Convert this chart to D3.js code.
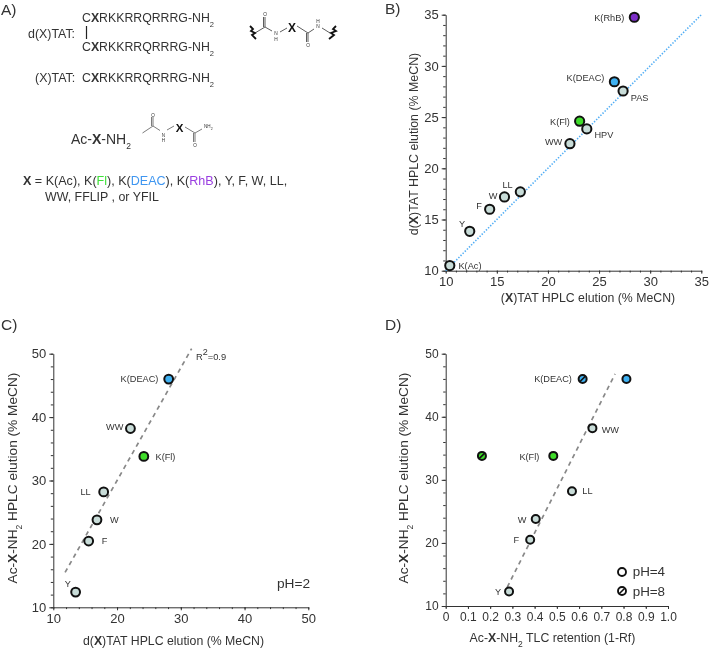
<!DOCTYPE html>
<html><head><meta charset="utf-8">
<script src="https://cdn.jsdelivr.net/npm/d3@7"></script>
<style>
html,body{margin:0;padding:0;background:#fff}
svg{display:block;will-change:transform}
text{font-family:"Liberation Sans",Arial,sans-serif;fill:#333}
</style></head><body>
<svg id="c" width="709" height="651"></svg>
<script>
// Panel B
const bNames = ["K(Ac)","Y","F","W","LL","WW","K(Fl)","HPV","K(DEAC)","PAS","K(RhB)"];
const bX = [10.4,12.35,14.3,15.75,17.3,22.15,23.1,23.8,26.5,27.35,28.45];
const bY = [10.5,13.85,16,17.2,17.7,22.4,24.6,23.85,28.45,27.55,34.75];
const bFit = [[10,10],[35,35]];
// Panel C
const cNames = ["Y","F","W","LL","WW","K(Fl)","K(DEAC)"];
const cX = [13.5,15.55,16.85,17.9,22.1,24.2,28.1];
const cY = [12.4,20.45,23.8,28.2,38.2,33.8,46];
const cFit = [[11.85,15.5],[31.7,50.8]];
// Panel D
const dNames = ["Y","F","W","LL","WW","K(Fl)","K(DEAC)"];
const dXpH4 = [0.285,0.38,0.405,0.568,0.66,0.484,0.813];
const dY = [12.3,20.5,23.8,28.2,38.2,33.8,46];
const dPH8Names = ["K(Fl)","K(DEAC)"];
const dXpH8 = [0.163,0.616];
const dYpH8 = [33.8,46];
const dFit = [[0.277,13],[0.762,46.8]];
const tickB = [10,15,20,25,30,35];
const tickCD = [10,20,30,40,50];
const tickDx = [0,0.1,0.2,0.3,0.4,0.5,0.6,0.7,0.8,0.9,1.0];

const colors = {"K(Fl)":"#3fdc2a","K(DEAC)":"#3fb1f2","K(RhB)":"#7d2ec8"};
const neutral = "#c8dcd8";
const svg = d3.select("#c");

function rich(sel, parts){
  parts.forEach(p=>{
    const t = sel.append("tspan").text(p.t);
    if(p.b) t.attr("font-weight","bold");
    if(p.c) t.style("fill",p.c);
    if(p.sub){ t.attr("baseline-shift","sub").attr("font-size",p.sub); }
    if(p.sup){ t.attr("baseline-shift","super").attr("font-size",p.sup); }
  });
}
function text(x,y,parts,size,anchor,parent){
  const s=(parent||svg).append("text").attr("x",x).attr("y",y).attr("font-size",size).attr("text-anchor",anchor||"start");
  rich(s, typeof parts==="string"?[{t:parts}]:parts);
  return s;
}

function panel(o){
  const x=d3.scaleLinear().domain(o.xd).range(o.xr);
  const y=d3.scaleLinear().domain(o.yd).range(o.yr);
  const g=svg.append("g");
  const ax=g.append("g").attr("transform",`translate(0,${o.yr[0]})`);
  const ay=g.append("g").attr("transform",`translate(${o.xr[0]},0)`);
  ax.call(d3.axisBottom(x).tickValues(o.xMinor).tickSize(1.8).tickFormat(""));
  ax.call(g=>g.select(".domain").remove());
  const ax2=g.append("g").attr("transform",`translate(0,${o.yr[0]})`)
    .call(d3.axisBottom(x).tickValues(o.xt).tickSize(3).tickSizeOuter(0).tickPadding(3.5).tickFormat(o.xf||d3.format("d")));
  ay.call(d3.axisLeft(y).tickValues(o.yMinor).tickSize(2.5).tickFormat(""));
  ay.call(g=>g.select(".domain").remove());
  const ay2=g.append("g").attr("transform",`translate(${o.xr[0]},0)`)
    .call(d3.axisLeft(y).tickValues(o.yt).tickSize(4).tickSizeOuter(0).tickPadding(3).tickFormat(d3.format("d")));
  g.selectAll(".domain").attr("stroke","#333").attr("stroke-width",1);
  g.selectAll(".tick line").attr("stroke","#333").attr("stroke-width",1);
  [ax2,ay2].forEach(a=>a.selectAll("text").attr("font-size",o.tickSize||13).style("font-family",'"Liberation Sans",Arial,sans-serif').style("fill","#333").attr("stroke","none"));
  const line=d3.line().x(d=>x(d[0])).y(d=>y(d[1]));
  g.append("path").attr("d",line(o.fit)).attr("fill","none").attr("stroke",o.fitColor).attr("stroke-width",o.fitW).attr("stroke-dasharray",o.fitDash);
  return {x,y,g};
}
function marks(p,names,xs,ys,labelPos,r,sw){
  names.forEach((n,i)=>{
    p.g.append("circle").attr("cx",p.x(xs[i])).attr("cy",p.y(ys[i])).attr("r",r)
      .attr("fill",colors[n]||neutral).attr("stroke","#111").attr("stroke-width",sw);
    const lp=labelPos[n];
    if(lp) text((lp[3]!==undefined?lp[3]:p.x(xs[i]))+lp[0],p.y(ys[i])+lp[1],n,9.2,lp[2],p.g);
  });
}
function stripeMarks(p,names,xs,ys,r){
  names.forEach((n,i)=>{
    const cx=p.x(xs[i]),cy=p.y(ys[i]);
    p.g.append("circle").attr("cx",cx).attr("cy",cy).attr("r",r).attr("fill",colors[n]).attr("stroke","#111").attr("stroke-width",2);
    p.g.append("line").attr("x1",cx-r*0.7).attr("y1",cy+r*0.7).attr("x2",cx+r*0.7).attr("y2",cy-r*0.7).attr("stroke","#111").attr("stroke-width",1.6);
  });
}

// Panel letters
text(1,15,"A)",15.5);
text(385,14,"B)",15.5);
text(1,330,"C)",15.5);
text(385,330,"D)",15.5);

// Panel A text
const seq=[{t:"C"},{t:"X",b:1},{t:"RKKRRQRRRG-NH"},{t:"2",sub:7.5}];
text(82,22,seq,12.3);
text(82,51,seq,12.3);
text(28,38,[{t:"d(X)TAT:"}],12.4);
svg.append("line").attr("x1",86.5).attr("x2",86.5).attr("y1",26).attr("y2",39).attr("stroke","#222").attr("stroke-width",1.2);
text(35,82,[{t:"(X)TAT:"}],12.4);
text(82,82,seq,12.3);
text(71,144,[{t:"Ac-"},{t:"X",b:1},{t:"-NH"},{t:"2",sub:8.5}],14);
text(23,185,[{t:"X",b:1},{t:" = "},{t:"K(Ac), K("},{t:"Fl",c:"#3fe03a"},{t:"), K("},{t:"DEAC",c:"#3f96f0"},{t:"), K("},{t:"RhB",c:"#9a3fe0"},{t:"), Y, F, W, LL,"}],12.55);
text(45,201,"WW, FFLIP , or YFIL",12.4);

// Structure drawings (decorative chemistry sketches)
const sg=svg.append("g").attr("fill","none").attr("stroke","#333").attr("stroke-width",0.8);
sg.append("path").attr("d","M255,33 L265,27 L272,31 M265,27 L265,17 M263.5,27 L263.5,17 M280,32 L287,28 M297,26 L308,33 L314,29 M308,33 L308,42 M306.5,33 L306.5,42 M322,28 L330,33");
svg.append("path").attr("d","M250,26 L253,29 L251,31 L255,33 L252,35 L256,39").attr("fill","none").attr("stroke","#111").attr("stroke-width",1.8);
svg.append("path").attr("d","M336,26 L333,29 L336,31 L331,33 L334,35 L329,39").attr("fill","none").attr("stroke","#111").attr("stroke-width",1.8);
text(265,16,"O",4.8,"middle");
text(276,35,"N",4.8,"middle");text(276,40.5,"H",4.8,"middle");
text(308,47,"O",4.8,"middle");
text(318,28,"N",4.8,"middle");text(318,22.5,"H",4.8,"middle");
text(292,32,[{t:"X",b:1}],12,"middle").style("fill","#111");

const sg2=svg.append("g").attr("fill","none").attr("stroke","#444").attr("stroke-width",0.7);
sg2.append("path").attr("d","M142.5,133 L153,126 L160,130.5 M153,126 L153,117 M151.5,126 L151.5,117 M167,130 L174,126 M185,127 L195,133 L202,129 M195,133 L195,142 M193.5,133 L193.5,142");
text(153,117,"O",4.6,"middle");
text(163.5,137,"N",4.6,"middle");text(163.5,141.5,"H",4.6,"middle");
text(195,147,"O",4.6,"middle");
text(204,128,[{t:"NH"},{t:"2",sub:3.5}],4.6);
text(179.5,132,[{t:"X",b:1}],11.5,"middle").style("fill","#111");

// Panel B
const B=panel({xd:[10,35],yd:[10,35],xr:[445.7,701.3],yr:[270.7,14.7],
  xt:tickB,yt:tickB,xMinor:d3.range(10,35.01,1),yMinor:d3.range(10,35.01,1),
  fit:bFit,fitColor:"#52aef5",fitW:1.6,fitDash:"1.4 1.6"});
marks(B,bNames,bX,bY,{
 "K(Ac)":[8.7,3,"start"],"Y":[-4.7,-4.6,"end"],"F":[-7.7,0,"end"],"W":[-7,2.3,"end"],"LL":[-7.6,-3.4,"end"],
 "WW":[-7.7,1.3,"end"],"K(Fl)":[-9.7,4,"end"],"HPV":[7.7,8.7,"start"],"K(DEAC)":[-10,-0.7,"end"],"PAS":[7.7,9.7,"start"],"K(RhB)":[-10,3.4,"end"]},4.6,2);
text(588,302,[{t:"("},{t:"X",b:1},{t:")TAT HPLC elution (% MeCN)"}],12.3,"middle");
text(0,0,[{t:"d("},{t:"X",b:1},{t:")TAT HPLC elution (% MeCN)"}],12.4,"middle").attr("transform","translate(418,144) rotate(-90)");

// Panel C
const C=panel({xd:[10,50],yd:[10,50],xr:[53.3,308.3],yr:[607.3,353.7],
  xt:tickCD,yt:tickCD,xMinor:d3.range(10,50.01,2),yMinor:d3.range(10,50.01,2),
  fit:cFit,fitColor:"#888",fitW:1.7,fitDash:"4.5 4"});
marks(C,cNames,cX,cY,{
 "Y":[-4.7,-4.7,"end"],"F":[13,3,"start"],"W":[13,3.3,"start"],"LL":[-13,3,"end"],
 "WW":[-7,1,"end"],"K(Fl)":[11.7,3.7,"start"],"K(DEAC)":[-10.3,3,"end"]},4.4,2);
text(173.5,645,[{t:"d("},{t:"X",b:1},{t:")TAT HPLC elution (% MeCN)"}],12.3,"middle");
text(0,0,[{t:"Ac-"},{t:"X",b:1},{t:"-NH"},{t:"2",sub:8.5},{t:" HPLC elution (% MeCN)"}],13.7,"middle").attr("transform","translate(17,478) rotate(-90)");
text(277,588,[{t:"pH=2"}],13.7);
text(196,360,[{t:"R"},{t:"2",sup:9},{t:"=0.9"}],9.3);

// Panel D
function D_x(v){return 445.7+v*(668-445.7);}
const D=panel({xd:[0,1],yd:[10,50],xr:[445.7,668],yr:[606,353.7],
  xt:tickDx,yt:tickCD,xMinor:d3.range(0,1.001,0.1),yMinor:d3.range(10,50.01,2),
  xf:d=>d===0?"0":d3.format(".1f")(d),tickSize:12,
  fit:dFit,fitColor:"#888",fitW:1.7,fitDash:"4.5 4"});
marks(D,dNames,dXpH4,dY,{
 "Y":[-8,3.7,"end"],"F":[-11,3.3,"end"],"W":[-9.3,3.7,"end"],"LL":[10.3,3,"start"],
 "WW":[9.3,5,"start"],"K(Fl)":[-14,3.7,"end"],"K(DEAC)":[-10.7,3.3,"end",D_x(dXpH8[1])]},4,2);
stripeMarks(D,dPH8Names,dXpH8,dYpH8,4);
text(552.5,642,[{t:"Ac-"},{t:"X",b:1},{t:"-NH"},{t:"2",sub:8.5},{t:" TLC retention (1-Rf)"}],12.3,"middle");
text(0,0,[{t:"Ac-"},{t:"X",b:1},{t:"-NH"},{t:"2",sub:8.5},{t:" HPLC elution (% MeCN)"}],13.7,"middle").attr("transform","translate(408,478) rotate(-90)");
svg.append("circle").attr("cx",622).attr("cy",572).attr("r",4).attr("fill","#fff").attr("stroke","#111").attr("stroke-width",1.9);
svg.append("circle").attr("cx",622).attr("cy",591).attr("r",4).attr("fill","#fff").attr("stroke","#111").attr("stroke-width",1.9);
svg.append("line").attr("x1",619.2).attr("y1",593.8).attr("x2",624.8).attr("y2",588.2).attr("stroke","#111").attr("stroke-width",1.6);
text(632.7,576,"pH=4",13.4);
text(632.7,596,"pH=8",13.4);
</script>
</body></html>
